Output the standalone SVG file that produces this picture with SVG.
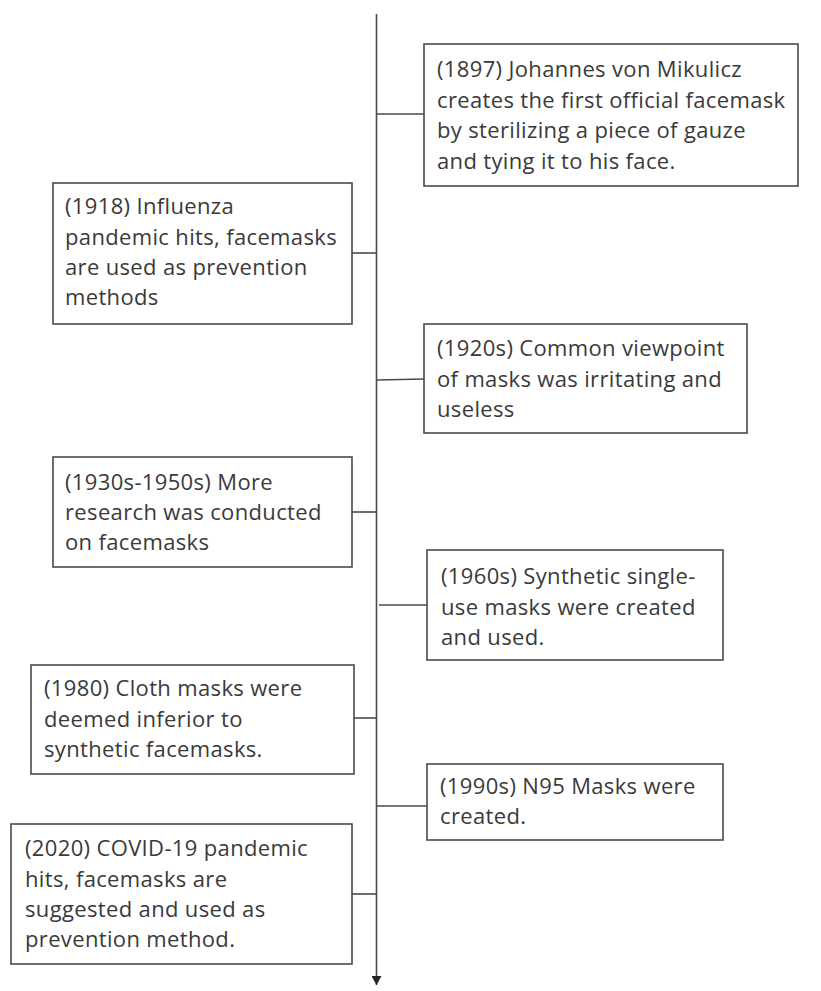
<svg xmlns="http://www.w3.org/2000/svg" width="821" height="991" viewBox="0 0 821 991">
<style>
.box{fill:#fff;stroke:#4a4a4a;stroke-width:1.6}
.ln{stroke:#4a4a4a;stroke-width:1.6;fill:none}
text{font-family:"Open Sans","Noto Sans","DejaVu Sans",sans-serif;font-size:22px;letter-spacing:0.35px;fill:#3a3a3a}
</style>
<defs>
<marker id="ah" markerWidth="10" markerHeight="10" refX="9" refY="5" orient="auto" markerUnits="userSpaceOnUse">
<path d="M0,0 L9,5 L0,10 Z" fill="#222"/>
</marker>
</defs>
<rect width="821" height="991" fill="#fff"/>
<g id="connectors">
<line class="ln" x1="376.5" y1="14" x2="376.5" y2="985" marker-end="url(#ah)"/>
<line class="ln" x1="376.5" y1="114" x2="424" y2="114"/>
<line class="ln" x1="352" y1="253" x2="376.5" y2="253"/>
<line class="ln" x1="377" y1="380" x2="424" y2="379"/>
<line class="ln" x1="352" y1="512" x2="376.5" y2="512"/>
<line class="ln" x1="379" y1="605" x2="427" y2="605"/>
<line class="ln" x1="354" y1="718" x2="376.5" y2="718"/>
<line class="ln" x1="376.5" y1="806" x2="427" y2="806"/>
<line class="ln" x1="352" y1="894" x2="376.5" y2="894"/>
</g>
<g id="n1897">
<rect class="box" x="424" y="44" width="374" height="142"/>
<text x="437" y="77">(1897) Johannes von Mikulicz</text>
<text x="437" y="108">creates the first official facemask</text>
<text x="437" y="138">by sterilizing a piece of gauze</text>
<text x="437" y="169">and tying it to his face.</text>
</g>
<g id="n1918">
<rect class="box" x="53" y="183" width="299" height="141"/>
<text x="65" y="214">(1918) Influenza</text>
<text x="65" y="245">pandemic hits, facemasks</text>
<text x="65" y="275">are used as prevention</text>
<text x="65" y="305">methods</text>
</g>
<g id="n1920s">
<rect class="box" x="424" y="324" width="323" height="109"/>
<text x="437" y="356">(1920s) Common viewpoint</text>
<text x="437" y="387">of masks was irritating and</text>
<text x="437" y="417">useless</text>
</g>
<g id="n1930s">
<rect class="box" x="53" y="457" width="299" height="110"/>
<text x="65" y="490">(1930s-1950s) More</text>
<text x="65" y="520">research was conducted</text>
<text x="65" y="550">on facemasks</text>
</g>
<g id="n1960s">
<rect class="box" x="427" y="550" width="296" height="110"/>
<text x="441" y="584">(1960s) Synthetic single-</text>
<text x="441" y="615">use masks were created</text>
<text x="441" y="645">and used.</text>
</g>
<g id="n1980">
<rect class="box" x="31" y="665" width="323" height="109"/>
<text x="44" y="696">(1980) Cloth masks were</text>
<text x="44" y="727">deemed inferior to</text>
<text x="44" y="757">synthetic facemasks.</text>
</g>
<g id="n1990s">
<rect class="box" x="427" y="764" width="296" height="76"/>
<text x="440" y="794">(1990s) N95 Masks were</text>
<text x="440" y="824">created.</text>
</g>
<g id="n2020">
<rect class="box" x="11" y="824" width="341" height="140"/>
<text x="25" y="856">(2020) COVID-19 pandemic</text>
<text x="25" y="887">hits, facemasks are</text>
<text x="25" y="917">suggested and used as</text>
<text x="25" y="947">prevention method.</text>
</g>
</svg>
